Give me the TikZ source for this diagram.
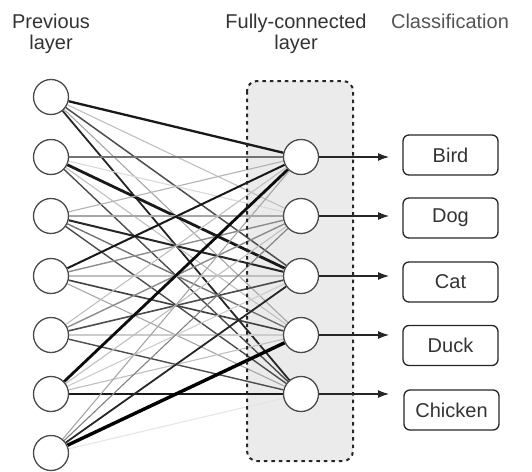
\documentclass[tikz,border=0pt]{standalone}
\usepackage{fontspec}
\setmainfont{Liberation Sans}
\usetikzlibrary{arrows.meta,backgrounds}
\definecolor{panelfill}{HTML}{EBEBEB}
\definecolor{headtext}{HTML}{333333}
\definecolor{classtext}{HTML}{555555}
\definecolor{ringgray}{HTML}{4A4A4A}

\begin{document}
\begin{tikzpicture}[x=1pt,y=-1pt,
  neuron/.style={circle, draw=ringgray, line width=1.3pt, fill=white,
    minimum size=35pt, inner sep=0pt},
  classbox/.style={draw=black!85, line width=1.3pt, rounded corners=6pt,
    minimum width=95pt, minimum height=40pt, inner sep=0pt,
    font=\fontsize{20}{24}\selectfont, text=headtext},
  heading/.style={font=\fontsize{20}{21}\selectfont, text=headtext,
    align=center, inner sep=0pt},
  outarrow/.style={-{Latex[length=11pt,width=8pt]}, line width=1.1pt, draw=black!85},
  panel/.style={rounded corners=10pt},
]
\useasboundingbox (0,0) rectangle (532,471);

% column headings
\node[heading, anchor=north] (hprev) at (51,13.5) {Previous\\layer};
\node[heading, anchor=north] (hfc) at (296,13.5) {Fully-connected\\layer};
\node[heading, anchor=base, text=classtext] (hcls) at (450,28) {Classification};

% previous layer
\foreach \i/\y in {1/97,2/157,3/216,4/276,5/335,6/394,7/453}
  \node[neuron] (l\i) at (51,\y) {};

% fully-connected layer
\foreach \j/\y in {1/157,2/216,3/276,4/335,5/394}
  \node[neuron] (f\j) at (301,\y) {};

% class labels
\node[classbox] (cbird) at (450.5,155) {Bird};
\node[classbox] (cdog) at (450.5,218) {Dog};
\node[classbox] (ccat) at (450.5,282) {Cat};
\node[classbox] (cduck) at (450.5,345.5) {Duck};
\node[classbox] (cchick) at (451.5,410) {Chicken};

% arrow ends
\foreach \j/\y in {1/157,2/216,3/276,4/335,5/394}
  \coordinate (a\j) at (389,\y);

\begin{scope}[on background layer]
  \fill[panelfill, panel] (247,81) rectangle (353,461);
  % weighted connections: from/to/shade/width
  \foreach \i/\j/\c/\w in {
      1/1/90/2.3, 1/2/25/1.1, 1/3/70/1.5, 1/4/35/1.1, 1/5/85/1.8,
      2/1/55/1.5, 2/2/15/1.1, 2/3/90/2.8, 2/4/25/1.1, 2/5/70/1.4,
      3/1/30/1.1, 3/2/35/1.4, 3/3/85/2.0, 3/4/55/1.4, 3/5/70/1.4,
      4/1/90/2.0, 4/2/45/1.4, 4/3/25/1.4, 4/4/75/1.6, 4/5/35/1.1,
      5/1/25/1.1, 5/2/45/1.4, 5/3/70/1.6, 5/4/20/1.4, 5/5/70/1.4,
      6/1/95/2.8, 6/2/25/1.1, 6/3/20/1.1, 6/4/25/1.1, 6/5/90/2.0,
      7/1/35/1.1, 7/2/50/1.1, 7/3/85/1.8, 7/4/100/3.4, 7/5/10/1.1}
    \draw[draw=black!\c, line width=\w pt] (l\i) -- (f\j);
\end{scope}

% dashed outline of the fully-connected panel
\draw[panel, dash pattern=on 3.5pt off 4pt, line width=2pt, draw=black!85]
  (247,81) rectangle (353,461);

% outputs
\foreach \j in {1,...,5}
  \draw[outarrow] (f\j) -- (a\j);
\end{tikzpicture}
\end{document}
